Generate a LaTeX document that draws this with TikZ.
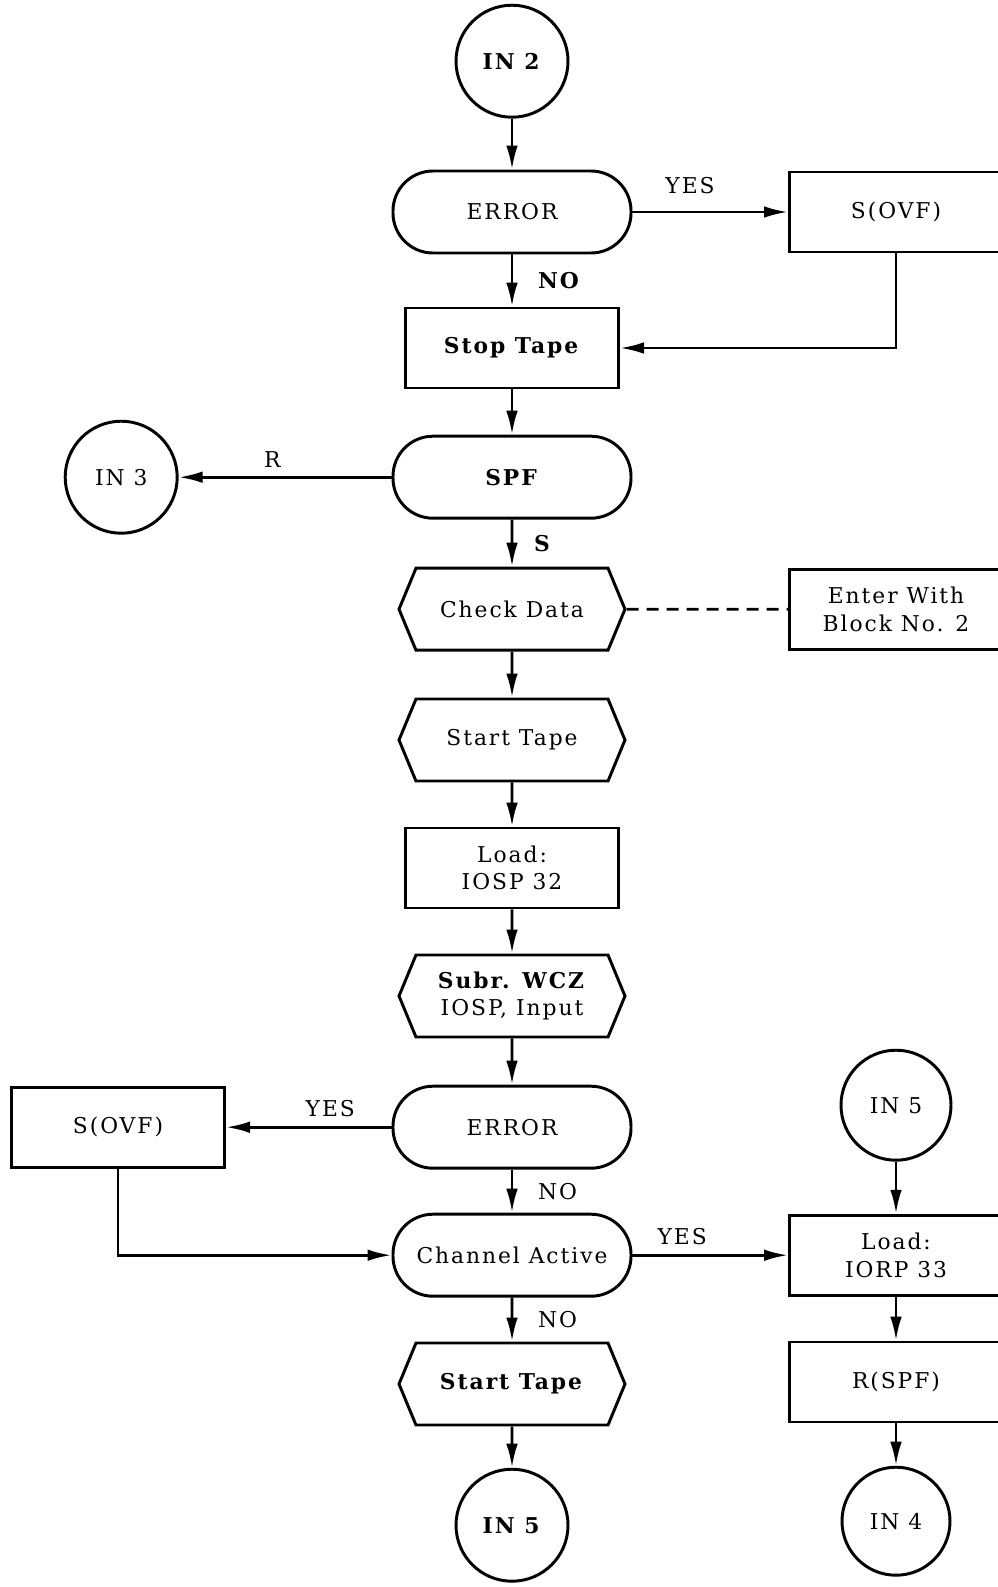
\documentclass[tikz,border=0pt]{standalone}
\usepackage{fontspec}
\setmainfont{DejaVu Serif}[LetterSpace=9]
\usetikzlibrary{arrows.meta,positioning,shapes.symbols}

\begin{document}
\begin{tikzpicture}[
    font=\fontsize{15.5}{19.5}\selectfont,
    conn/.style={draw, circle, line width=2.1pt, minimum size=2.8cm, inner sep=0pt},
    term/.style={draw, rounded corners=1cm, line width=2.1pt, minimum width=5.95cm, minimum height=2.05cm},
    proc/.style={draw, line width=2pt, minimum width=5.33cm, minimum height=2cm, align=center},
    prep/.style={draw, signal, signal to=east and west, signal pointer angle=135, line width=2.1pt, minimum width=5.65cm, minimum height=2.05cm, align=center},
    flow/.style={draw, line width=2pt, -{Latex[length=6mm,width=2.9mm]}},
    note/.style={draw, line width=2pt, dash pattern=on 3mm off 2mm}
]
    \useasboundingbox (0,0) rectangle (24.95,-39.675);

    % Main column
    \node[conn] (in2) at (12.8,-1.53) {\textbf{IN 2}};
    \node[term] (err1) at (12.8,-5.3) {ERROR};
    \node[proc] (stop) at (12.8,-8.7) {\textbf{Stop Tape}};
    \node[term] (spf) at (12.8,-11.93) {\textbf{SPF}};
    \node[prep] (check) at (12.8,-15.23) {Check Data};
    \node[prep] (start1) at (12.8,-18.5) {Start Tape};
    \node[proc] (load1) at (12.8,-21.7) {Load:\\IOSP 32};
    \node[prep] (subr) at (12.8,-24.9) {\textbf{Subr. WCZ}\\IOSP, Input};
    \node[term] (err2) at (12.8,-28.18) {ERROR};
    \node[term] (chan) at (12.8,-31.38) {Channel Active};
    \node[prep] (start2) at (12.8,-34.6) {\textbf{Start Tape}};
    \node[conn] (in5b) at (12.8,-38.13) {\textbf{IN 5}};

    % Left column
    \node[conn] (in3) at (3.03,-11.93) {IN 3};
    \node[proc] (ovf2) at (2.95,-28.18) {S(OVF)};

    % Right column
    \node[proc] (ovf1) at (22.4,-5.3) {S(OVF)};
    \node[proc] (enter) at (22.4,-15.23) {Enter With\\Block No. 2};
    \node[conn, minimum size=2.75cm] (in5r) at (22.4,-27.63) {IN 5};
    \node[proc] (load2) at (22.4,-31.38) {Load:\\IORP 33};
    \node[proc] (rspf) at (22.4,-34.55) {R(SPF)};
    \node[conn, minimum size=2.7cm] (in4) at (22.4,-38.03) {IN 4};

    % Links main column
    \draw[flow] (in2) -- (err1);
    \draw[flow] (err1) -- node[right=5mm] {\textbf{NO}} (stop);
    \draw[flow] (stop) -- (spf);
    \draw[flow] (spf) -- node[right=4mm] {\textbf{S}} (check);
    \draw[flow] (check) -- (start1);
    \draw[flow] (start1) -- (load1);
    \draw[flow] (load1) -- (subr);
    \draw[flow] (subr) -- (err2);
    \draw[flow] (err2) -- node[right=5mm] {NO} (chan);
    \draw[flow] (chan) -- node[right=5mm] {NO} (start2);
    \draw[flow] (start2) -- (in5b);

    % Branches
    \draw[flow] (err1) -- node[above=3mm, pos=0.37] {YES} (ovf1);
    \draw[flow] (ovf1.south) |- (stop.east);
    \draw[flow] (spf) -- node[above=1mm, pos=0.56] {R} (in3);
    \draw[note] (check) -- (enter);
    \draw[flow] (err2) -- node[above=1mm, pos=0.37] {YES} (ovf2);
    \draw[flow] (ovf2.south) |- (chan.west);
    \draw[flow] (chan) -- node[above=1mm, pos=0.32] {YES} (load2);

    % Right column links
    \draw[flow] (in5r) -- (load2);
    \draw[flow] (load2) -- (rspf);
    \draw[flow] (rspf) -- (in4);

\end{tikzpicture}
\end{document}
